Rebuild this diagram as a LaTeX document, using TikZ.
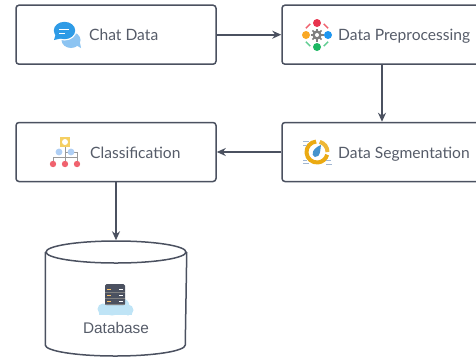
\documentclass[tikz,border=0pt]{standalone}
\usepackage{fontspec}
\setmainfont{Lato}
\newfontfamily\dbfont{Liberation Sans}
\usepackage{xcolor}
\usetikzlibrary{shapes.geometric,arrows.meta,calc}
\definecolor{linegray}{HTML}{4B5160}
\definecolor{textgray}{HTML}{565C69}
\definecolor{chatblue}{HTML}{2E9BE6}
\definecolor{chatpale}{HTML}{8CC4F2}
\definecolor{ringyellow}{HTML}{EBAA12}
\definecolor{iconred}{HTML}{E8344E}
\definecolor{icongreen}{HTML}{1DB863}
\definecolor{iconblue}{HTML}{1E96F0}
\definecolor{iconorange}{HTML}{F9A825}
\definecolor{paleblue}{HTML}{AFCFF5}
\definecolor{dotred}{HTML}{F0626E}
\definecolor{squareyellow}{HTML}{F5CF62}
\definecolor{cloudblue}{HTML}{BFE4F6}
\tikzset{
  boxnode/.style={draw=linegray,line width=1.5pt,rounded corners=3pt,fill=white,minimum width=200pt,minimum height=59pt,inner sep=0pt},
  labelnode/.style={anchor=base west,text=textgray,inner sep=0pt,font=\fontsize{15.6}{18}\selectfont},
  conn/.style={draw=linegray,line width=1.6pt,-{Stealth[length=9pt,width=8pt]}}
}
\begin{document}
\begin{tikzpicture}[x=1pt,y=-1pt]
\useasboundingbox (0,0) rectangle (476,357);
\clip (0,0) rectangle (476,357);
\node[boxnode] (chat) at (116,34.7) {};
\node[boxnode] (prep) at (382,34.7) {};
\node[boxnode] (segm) at (382,152) {};
\node[boxnode] (clas) at (116,152) {};
\node[draw=linegray,line width=1.5pt,ellipse,minimum width=140pt,minimum height=22pt,inner sep=0pt] (dbtop) at (116,252) {};
\draw[draw=linegray,line width=1.5pt] (dbtop.west) -- ++(0,93) arc (180:360:70pt and 11pt) -- (dbtop.east);
\draw[conn] (chat) -- (prep);
\draw[conn] (prep) -- (segm);
\draw[conn] (segm) -- (clas);
\draw[conn] (clas) -- (dbtop);
\node[labelnode] (chatlabel) at (89,40) {Chat Data};
\node[labelnode] (preplabel) at (338,40) {Data Preprocessing};
\node[labelnode] (segmlabel) at (338,158) {Data Segmentation};
\node[labelnode] (claslabel) at (90,158) {Classification};
\node[text=textgray,inner sep=0pt,font=\dbfont\fontsize{15.4}{18}\selectfont] (dblabel) at (116,328) {Database};
\fill[chatpale] (71,40) ellipse (9.5 and 8);
\fill[chatpale] (74,44) -- (81,48) -- (79,38) -- cycle;
\fill[white] (64.5,30.5) ellipse (12 and 10);
\fill[chatblue] (64.5,30.5) ellipse (10.7 and 8.7);
\fill[chatblue] (56,33) -- (54,40) -- (63,38) -- cycle;
\draw[white,line width=1pt] (59,29.5) -- (69,29.5) (59,33.5) -- (65,33.5);
\foreach \x/\y/\c in {317/23/iconred,306/35/iconorange,328/35/iconblue,317/47/icongreen}{
  \fill[\c] (\x,\y) circle (4);
}
\foreach \a/\c in {-135/dotred,-45/dotred,45/icongreen!70!white,135/icongreen!70!white}{
  \draw[\c,line width=1.4pt] ($(317,35)+(\a-14:13)$) -- ($(317,35)+(\a+14:13)$);
}
\foreach \a in {0,45,...,315}{
  \draw[gray,line width=1.6pt] ($(317,35)+(\a:3.5)$) -- ($(317,35)+(\a:6.5)$);
}
\fill[gray] (317,35) circle (4.7);
\fill[white] (317,35) circle (2);
\draw[ringyellow,line width=4pt] (317,152) ++(-95:10.5) arc (-95:-345:10.5);
\draw[ringyellow!85!white,line width=4pt] (317,152) ++(0:10.5) arc (0:-75:10.5);
\fill[iconblue!80!black!80] (321,145) .. controls (320,150) and (321,157) .. (315,157) .. controls (310,155) and (313,148) .. (321,145);
\foreach \x/\y/\w in {303/141/6,303/145/4,303/163/6,303/160/4,326/160/5,326/164/6}{
  \draw[paleblue!70!gray,line width=.8pt] (\x,\y) -- ++(\w,0);
}
\draw[gray!80,line width=1pt] (65,147) -- (65,164) (53,164) -- (53,157) -- (77,157) -- (77,164);
\draw[gray!80,line width=1pt] (65,152) -- (77,152) -- (77,157);
\fill[squareyellow] (60,137) rectangle (70,147);
\fill[white] (65,142) circle (3);
\foreach \x in {59,71}{
  \fill[paleblue] (\x,152) circle (3.4);
}
\foreach \x in {53,65,77}{
  \fill[dotred] (\x,164) circle (3.2);
}
\fill[cloudblue] (103,309) circle (5.5) (112,308) circle (7.5) (122,306) circle (7.5) (128,310) circle (5.5);
\fill[cloudblue] (99,309) rectangle (132,315);
\fill[linegray,rounded corners=1.5pt] (105,284) rectangle (125,305);
\foreach \y in {289,295,301}{
  \draw[white,line width=.8pt] (119,\y) -- (123,\y);
  \draw[iconorange!70,line width=.6pt] (107,\y) -- (111,\y);
  \draw[gray,line width=.5pt] (105,\y+3) -- (125,\y+3);
}
\end{tikzpicture}
\end{document}
